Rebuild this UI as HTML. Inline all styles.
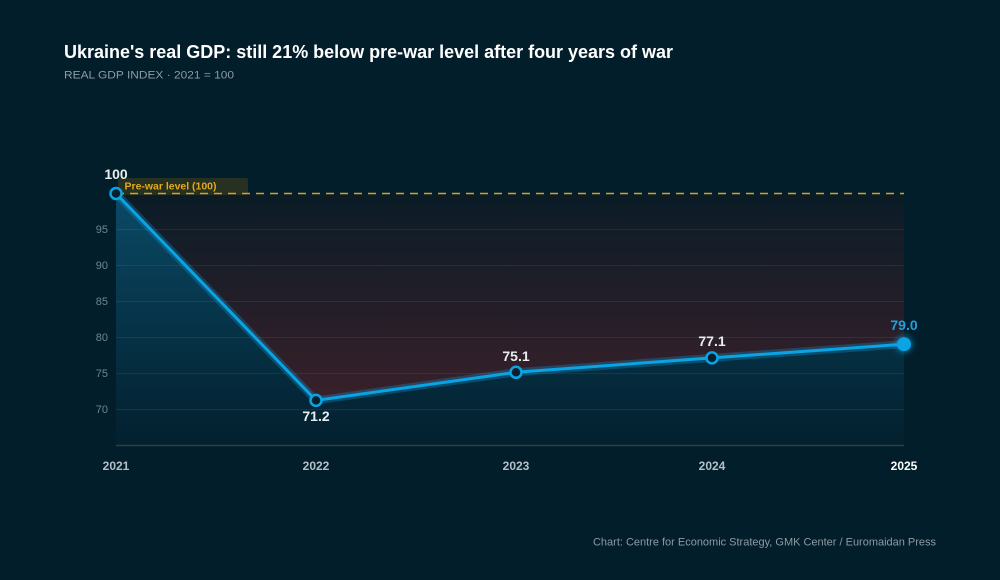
<!DOCTYPE html>
<html><head><meta charset="utf-8">
<style>
html,body{margin:0;padding:0;background:#021e2a;}
svg{display:block;}
text{font-family:"Liberation Sans",Arial,sans-serif;}
</style></head>
<body>
<svg width="1000" height="580" viewBox="0 0 1000 580" xmlns="http://www.w3.org/2000/svg">
<defs>
<linearGradient id="blueArea" x1="0" y1="193" x2="0" y2="445" gradientUnits="userSpaceOnUse">
<stop offset="0" stop-color="#0b4a66"/>
<stop offset="0.5" stop-color="#063449"/>
<stop offset="1" stop-color="#03202e"/>
</linearGradient>
<linearGradient id="redArea" x1="0" y1="193" x2="0" y2="400" gradientUnits="userSpaceOnUse">
<stop offset="0" stop-color="#0a1c27"/>
<stop offset="1" stop-color="#38202a"/>
</linearGradient>
<filter id="glow" x="-1" y="-1" width="3" height="3"><feGaussianBlur stdDeviation="3"/></filter>
</defs>
<rect width="1000" height="580" fill="#021e2a"/>

<text x="64" y="58" font-size="18" font-weight="bold" fill="#ffffff" textLength="609" lengthAdjust="spacingAndGlyphs">Ukraine's real GDP: still 21% below pre-war level after four years of war</text>
<text x="64" y="78.5" font-size="11" fill="#8d9ba5" textLength="170" lengthAdjust="spacingAndGlyphs">REAL GDP INDEX · 2021 = 100</text>

<!-- red gap area -->
<polygon points="116,193.5 904,193.5 904,344.2 712,357.9 516,372.3 316,400.4" fill="url(#redArea)"/>
<!-- blue area -->
<polygon points="116,193.5 316,400.4 516,372.3 712,357.9 904,344.2 904,445 116,445" fill="url(#blueArea)"/>

<!-- gridlines -->
<g stroke="#ffffff" stroke-opacity="0.07" stroke-width="1">
<line x1="116" y1="229.5" x2="904" y2="229.5"/>
<line x1="116" y1="265.5" x2="904" y2="265.5"/>
<line x1="116" y1="301.5" x2="904" y2="301.5"/>
<line x1="116" y1="337.5" x2="904" y2="337.5"/>
<line x1="116" y1="373.5" x2="904" y2="373.5"/>
<line x1="116" y1="409.5" x2="904" y2="409.5"/>
</g>
<line x1="116" y1="445.5" x2="904" y2="445.5" stroke="#2b3f4a" stroke-width="1.5"/>

<!-- y ticks -->
<g font-size="11" fill="#6f8592" text-anchor="end">
<text x="108" y="233">95</text>
<text x="108" y="269">90</text>
<text x="108" y="305">85</text>
<text x="108" y="341">80</text>
<text x="108" y="377">75</text>
<text x="108" y="413">70</text>
</g>

<!-- x labels -->
<g font-size="12" font-weight="bold" fill="#b4c0c8" text-anchor="middle">
<text x="116" y="470">2021</text>
<text x="316" y="470">2022</text>
<text x="516" y="470">2023</text>
<text x="712" y="470">2024</text>
<text x="904" y="470" fill="#ffffff">2025</text>
</g>

<!-- pre-war label & dashed line -->
<rect x="118" y="178" width="130" height="17" rx="2" fill="#2b3320" fill-opacity="0.9"/>
<line x1="116" y1="193.5" x2="904" y2="193.5" stroke="#d6a21e" stroke-width="1.5" stroke-dasharray="8,6"/>
<text x="124.5" y="189.5" font-size="10" font-weight="bold" fill="#e3a91d" textLength="92" lengthAdjust="spacingAndGlyphs">Pre-war level (100)</text>

<!-- line -->
<polyline points="116,193.5 316,400.4 516,372.3 712,357.9 904,344.2" fill="none" stroke="#0ea5e9" stroke-opacity="0.28" stroke-width="8" stroke-linejoin="round"/>
<polyline points="116,193.5 316,400.4 516,372.3 712,357.9 904,344.2" fill="none" stroke="#0aa3e3" stroke-width="3" stroke-linejoin="round"/>

<!-- points -->
<g fill="#07202c" stroke="#0aa3e3" stroke-width="2.5">
<circle cx="116" cy="193.5" r="5.5"/>
<circle cx="316" cy="400.4" r="5.5"/>
<circle cx="516" cy="372.3" r="5.5"/>
<circle cx="712" cy="357.9" r="5.5"/>
</g>
<circle cx="904" cy="344.2" r="9" fill="#0aa3e3" opacity="0.5" filter="url(#glow)"/>
<circle cx="904" cy="344.2" r="7" fill="#0aa3e3"/>

<!-- data labels -->
<g font-size="14" font-weight="bold" fill="#e8edf0" text-anchor="middle">
<text x="116" y="179">100</text>
<text x="316" y="421">71.2</text>
<text x="516" y="361">75.1</text>
<text x="712" y="346">77.1</text>
<text x="904" y="330" fill="#1aa3e0">79.0</text>
</g>

<text x="936" y="545.5" font-size="11" fill="#8d9ba5" text-anchor="end" textLength="343" lengthAdjust="spacingAndGlyphs">Chart: Centre for Economic Strategy, GMK Center / Euromaidan Press</text>
</svg>
</body></html>
